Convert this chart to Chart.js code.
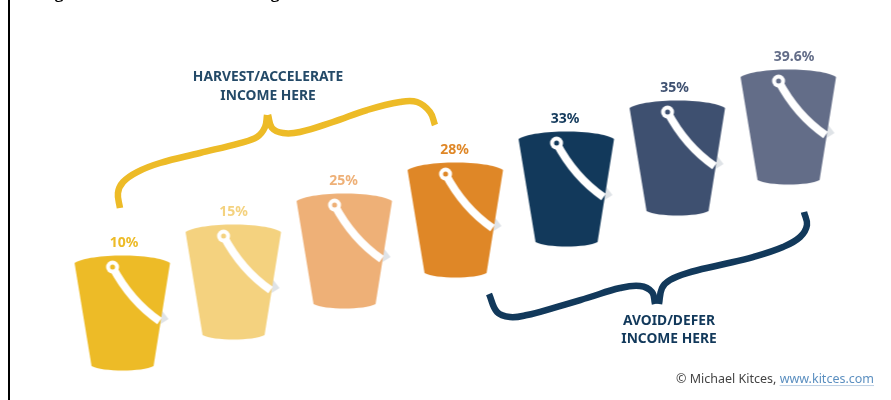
<!DOCTYPE html>
<html>
<head>
<meta charset="utf-8">
<title>Tax bracket buckets</title>
<script src="https://cdn.jsdelivr.net/npm/chart.js@4"></script>
<style>
  html, body { margin: 0; padding: 0; background: #fff; }
  canvas { display: block; }
</style>
</head>
<body>
<canvas id="chart" width="891" height="400"></canvas>
<script>
// marginal tax brackets, one bucket each
const taxRates = [10, 15, 25, 28, 33, 35, 39.6];
const bucketSteps = [0, 1, 2, 3, 4, 5, 6];

// brace strands, in bucket steps (x) and stair levels (y)
const harvestLeftX = [-0.023, -0.041, 0.005, 0.131, 0.338, 0.698, 1.059, 1.212, 1.284, 1.302];
const harvestLeftY = [3.387, 3.871, 4.226, 4.548, 4.839, 5.161, 5.484, 5.677, 6.0, 6.387];
const harvestRightX = [1.311, 1.347, 1.446, 1.599, 1.896, 2.203, 2.5, 2.653, 2.77, 2.815];
const harvestRightY = [6.387, 5.968, 5.806, 5.839, 6.161, 6.548, 6.806, 6.806, 6.484, 6.065];
const avoidRightX = [6.139, 6.166, 6.104, 5.95, 5.68, 5.383, 5.086, 4.932, 4.86, 4.833];
const avoidRightY = [3.258, 2.839, 2.452, 2.129, 1.806, 1.548, 1.29, 1.065, 0.806, 0.29];
const avoidLeftX = [4.797, 4.77, 4.662, 4.482, 4.185, 3.878, 3.644, 3.491, 3.374, 3.302];
const avoidLeftY = [0.29, 0.677, 0.871, 0.806, 0.484, 0.161, -0.065, -0.129, 0.032, 0.613];

const harvestLines = ['HARVEST/ACCELERATE', 'INCOME HERE'];
const avoidLines = ['AVOID/DEFER', 'INCOME HERE'];

const bucketColors = ['#edbb27', '#f4d27f', '#eeb077', '#df8727', '#12395b', '#3e5070', '#636d88'];
const rateLabelNudge = [1.5, 0, -1, -1, -1.5, -3, 5.5];
const GOLD = '#edbb27';
const NAVY = '#12395b';
const LABEL_FONT = 'bold 13.8px "Noto Sans"';

function toPoints(xs, ys) {
  return xs.map((x, i) => ({ x, y: ys[i] }));
}

// bucket sprite, the library places it centred on each data point
function makeBucket(color) {
  const c = document.createElement('canvas');
  c.width = 130;
  c.height = 140;
  const ctx = c.getContext('2d');
  ctx.translate(65, 70);

  // handle shadow poking out past the rim
  ctx.fillStyle = '#dfe3e7';
  ctx.beginPath();
  ctx.moveTo(39, -3);
  ctx.lineTo(46, 6);
  ctx.lineTo(38, 11);
  ctx.closePath();
  ctx.fill();

  ctx.fillStyle = color;
  ctx.beginPath();
  ctx.moveTo(-48, -50);
  ctx.bezierCurveTo(-33, -60, 33, -60, 47.5, -50);
  ctx.lineTo(31, 53);
  ctx.bezierCurveTo(20, 59, -20, 59, -31, 53);
  ctx.closePath();
  ctx.fill();

  // white handle strap
  ctx.strokeStyle = '#fff';
  ctx.lineWidth = 8;
  ctx.beginPath();
  ctx.moveTo(-10, -46);
  ctx.quadraticCurveTo(8, -12, 37, 8);
  ctx.stroke();

  ctx.fillStyle = '#fff';
  ctx.beginPath();
  ctx.arc(-10, -46, 6.5, 0, Math.PI * 2);
  ctx.fill();
  ctx.fillStyle = color;
  ctx.beginPath();
  ctx.arc(-10, -46, 2.5, 0, Math.PI * 2);
  ctx.fill();
  return c;
}

function braceDataset(xs, ys, color) {
  return {
    data: toPoints(xs, ys),
    showLine: true,
    borderColor: color,
    borderWidth: 6.5,
    borderCapStyle: 'butt',
    tension: 0.4,
    pointRadius: 0,
    clip: false,
  };
}

const overlayText = {
  id: 'overlayText',
  afterDatasetsDraw(chart) {
    const { ctx, scales: { x, y } } = chart;
    ctx.save();
    ctx.textBaseline = 'middle';
    ctx.textAlign = 'center';

    // rate above each bucket
    ctx.font = 'bold 14px "Noto Sans"';
    taxRates.forEach((rate, i) => {
      ctx.fillStyle = bucketColors[i];
      ctx.fillText(rate + '%', x.getPixelForValue(bucketSteps[i]) + rateLabelNudge[i], y.getPixelForValue(bucketSteps[i]) - 70);
    });

    ctx.font = LABEL_FONT;
    ctx.fillStyle = '#244a68';
    ctx.fillText(harvestLines[0], x.getPixelForValue(1.311), y.getPixelForValue(7.62));
    ctx.fillText(harvestLines[1], x.getPixelForValue(1.311), y.getPixelForValue(7.0));
    ctx.fillStyle = NAVY;
    ctx.fillText(avoidLines[0], x.getPixelForValue(4.923), y.getPixelForValue(-0.258));
    ctx.fillText(avoidLines[1], x.getPixelForValue(4.923), y.getPixelForValue(-0.839));

    // credit line, the site name is link coloured
    const right = x.getPixelForValue(6.77);
    const base = y.getPixelForValue(-2.13);
    const site = 'www.kitces.com';
    ctx.font = '12.5px "Noto Sans"';
    ctx.textAlign = 'right';
    const siteWidth = ctx.measureText(site).width;
    ctx.fillStyle = '#bcd0e4';
    ctx.fillRect(right - siteWidth, base + 6, siteWidth, 1);
    ctx.fillStyle = '#5b8fc0';
    ctx.fillText(site, right, base);
    ctx.fillStyle = '#444';
    ctx.fillText('© Michael Kitces, ', right - siteWidth, base);

    // frame rule and the bottom of the heading running off the top edge
    ctx.fillStyle = '#000';
    ctx.fillRect(8, 0, 2, chart.height);
    ctx.font = 'bold 18px "Liberation Serif"';
    ctx.textAlign = 'center';
    ctx.textBaseline = 'alphabetic';
    ctx.fillText('g', 59, -2);
    ctx.fillText('g', 275, -2);
    ctx.restore();
  },
};

new Chart(document.getElementById('chart'), {
  type: 'scatter',
  data: {
    datasets: [
      {
        data: toPoints(bucketSteps, bucketSteps),
        pointStyle: bucketColors.map(makeBucket),
        pointRadius: 10,
        clip: false,
      },
      braceDataset(harvestLeftX, harvestLeftY, GOLD),
      braceDataset(harvestRightX, harvestRightY, GOLD),
      braceDataset(avoidRightX, avoidRightY, NAVY),
      braceDataset(avoidLeftX, avoidLeftY, NAVY),
    ],
  },
  options: {
    responsive: false,
    animation: false,
    layout: { padding: 0, autoPadding: false },
    plugins: { legend: { display: false }, tooltip: { enabled: false } },
    scales: {
      x: { type: 'linear', display: false, min: -1.1036, max: 6.923 },
      y: { type: 'linear', display: false, min: -2.806, max: 10.097 },
    },
  },
  plugins: [overlayText],
});
</script>
</body>
</html>
